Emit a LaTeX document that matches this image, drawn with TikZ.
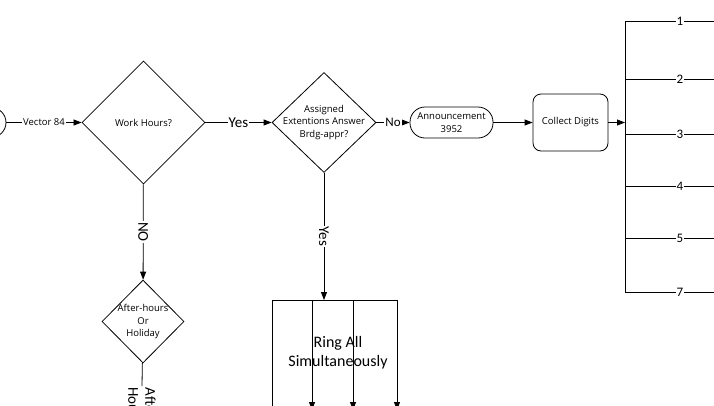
\documentclass[tikz,border=0pt]{standalone}
\usepackage{fontspec}
\setmainfont{Carlito}
\newfontfamily\boxfont{Open Sans}
\usetikzlibrary{shapes.geometric,arrows.meta}
\begin{document}
\begin{tikzpicture}[x=1pt, y=-1pt, line width=0.8pt, >={Triangle[length=8pt,width=6pt]},
    decision/.style={diamond, draw, inner sep=0pt},
    step box/.style={draw, boxfont, align=center},
    boxfont/.style={font=\boxfont\fontsize{9.5}{12.5}\selectfont},
    lbl/.style={fill=white, inner sep=1pt, font=\fontsize{15}{17}\selectfont}]
  \useasboundingbox (0,0) rectangle (714,405);
  \clip (0,0) rectangle (714,405);
      \node (start) at (-9,122.5) [circle, draw, minimum size=30pt] {};
      \node (work) at (143.5,122.5) [decision, minimum width=123pt, minimum height=123pt,
        label={[boxfont]center:Work Hours?}] {};
      \node (assigned) at (324,122.5) [decision, minimum width=104pt, minimum height=100pt,
        label={[boxfont, align=center]center:Assigned\\Extentions Answer\\Brdg-appr?}] {};
      \node (announce) at (451.5,122.5) [step box, rounded corners=15pt, minimum width=83pt, minimum height=31pt] {Announcement\\3952};
      \node (collect) at (570.5,122.5) [step box, rounded corners=8pt, minimum width=75pt, minimum height=57pt] {Collect Digits};
      \node (afterhrs) at (143,321.5) [decision, minimum width=82pt, minimum height=83pt,
        label={[boxfont, align=center]center:After-hours\\Or\\Holiday}] {};
      \node (ahlabel) at (142,386) [lbl, rotate=-90, anchor=west, align=left] {After\\Hours};
      \node (ringall) at (338,352.5) [font=\fontsize{16}{19}\selectfont, align=center] {Ring All\\Simultaneously};
      \coordinate (busin) at (625,122.5);
      \coordinate (rtop) at (324,300);
      % main row
      \draw[->] (start) -- node[lbl, boxfont] {Vector 84} (work);
      \draw[->] (work) -- node[lbl] {Yes} (assigned);
      \draw[->] (assigned) -- node[lbl, font=\fontsize{13}{15}\selectfont] {No} (announce);
      \draw[->] (announce) -- (collect);
      \draw[->] (collect) -- (busin);
      \draw[->] (work) -- node[lbl, rotate=-90] {NO} (afterhrs);
      \draw (afterhrs) -- (ahlabel.west);
      \draw[->] (assigned) -- node[lbl, rotate=-90] {Yes} (rtop);
      % digit branches
      \foreach \y/\n in {21/1, 79/2, 134/3, 186/4, 238/5, 292/7} {
        \coordinate (b\n) at (625,\y);
        \coordinate (e\n) at (735,\y);
        \draw (b\n) -- node[lbl, font=\fontsize{13}{15}\selectfont] {\n} (e\n);
      }
      \draw (b1) -- (b7);
      % ring all simultaneously
      \foreach \x/\n in {272/1, 312/2, 353/3, 397/4} {
        \coordinate (r\n) at (\x,300);
        \coordinate (d\n) at (\x,410);
      }
      \draw (r1) -- (r4);
      \draw (r1) -- (d1);
      \foreach \n in {2,3,4}
        \draw[->] (r\n) -- (d\n);
\end{tikzpicture}
\end{document}
